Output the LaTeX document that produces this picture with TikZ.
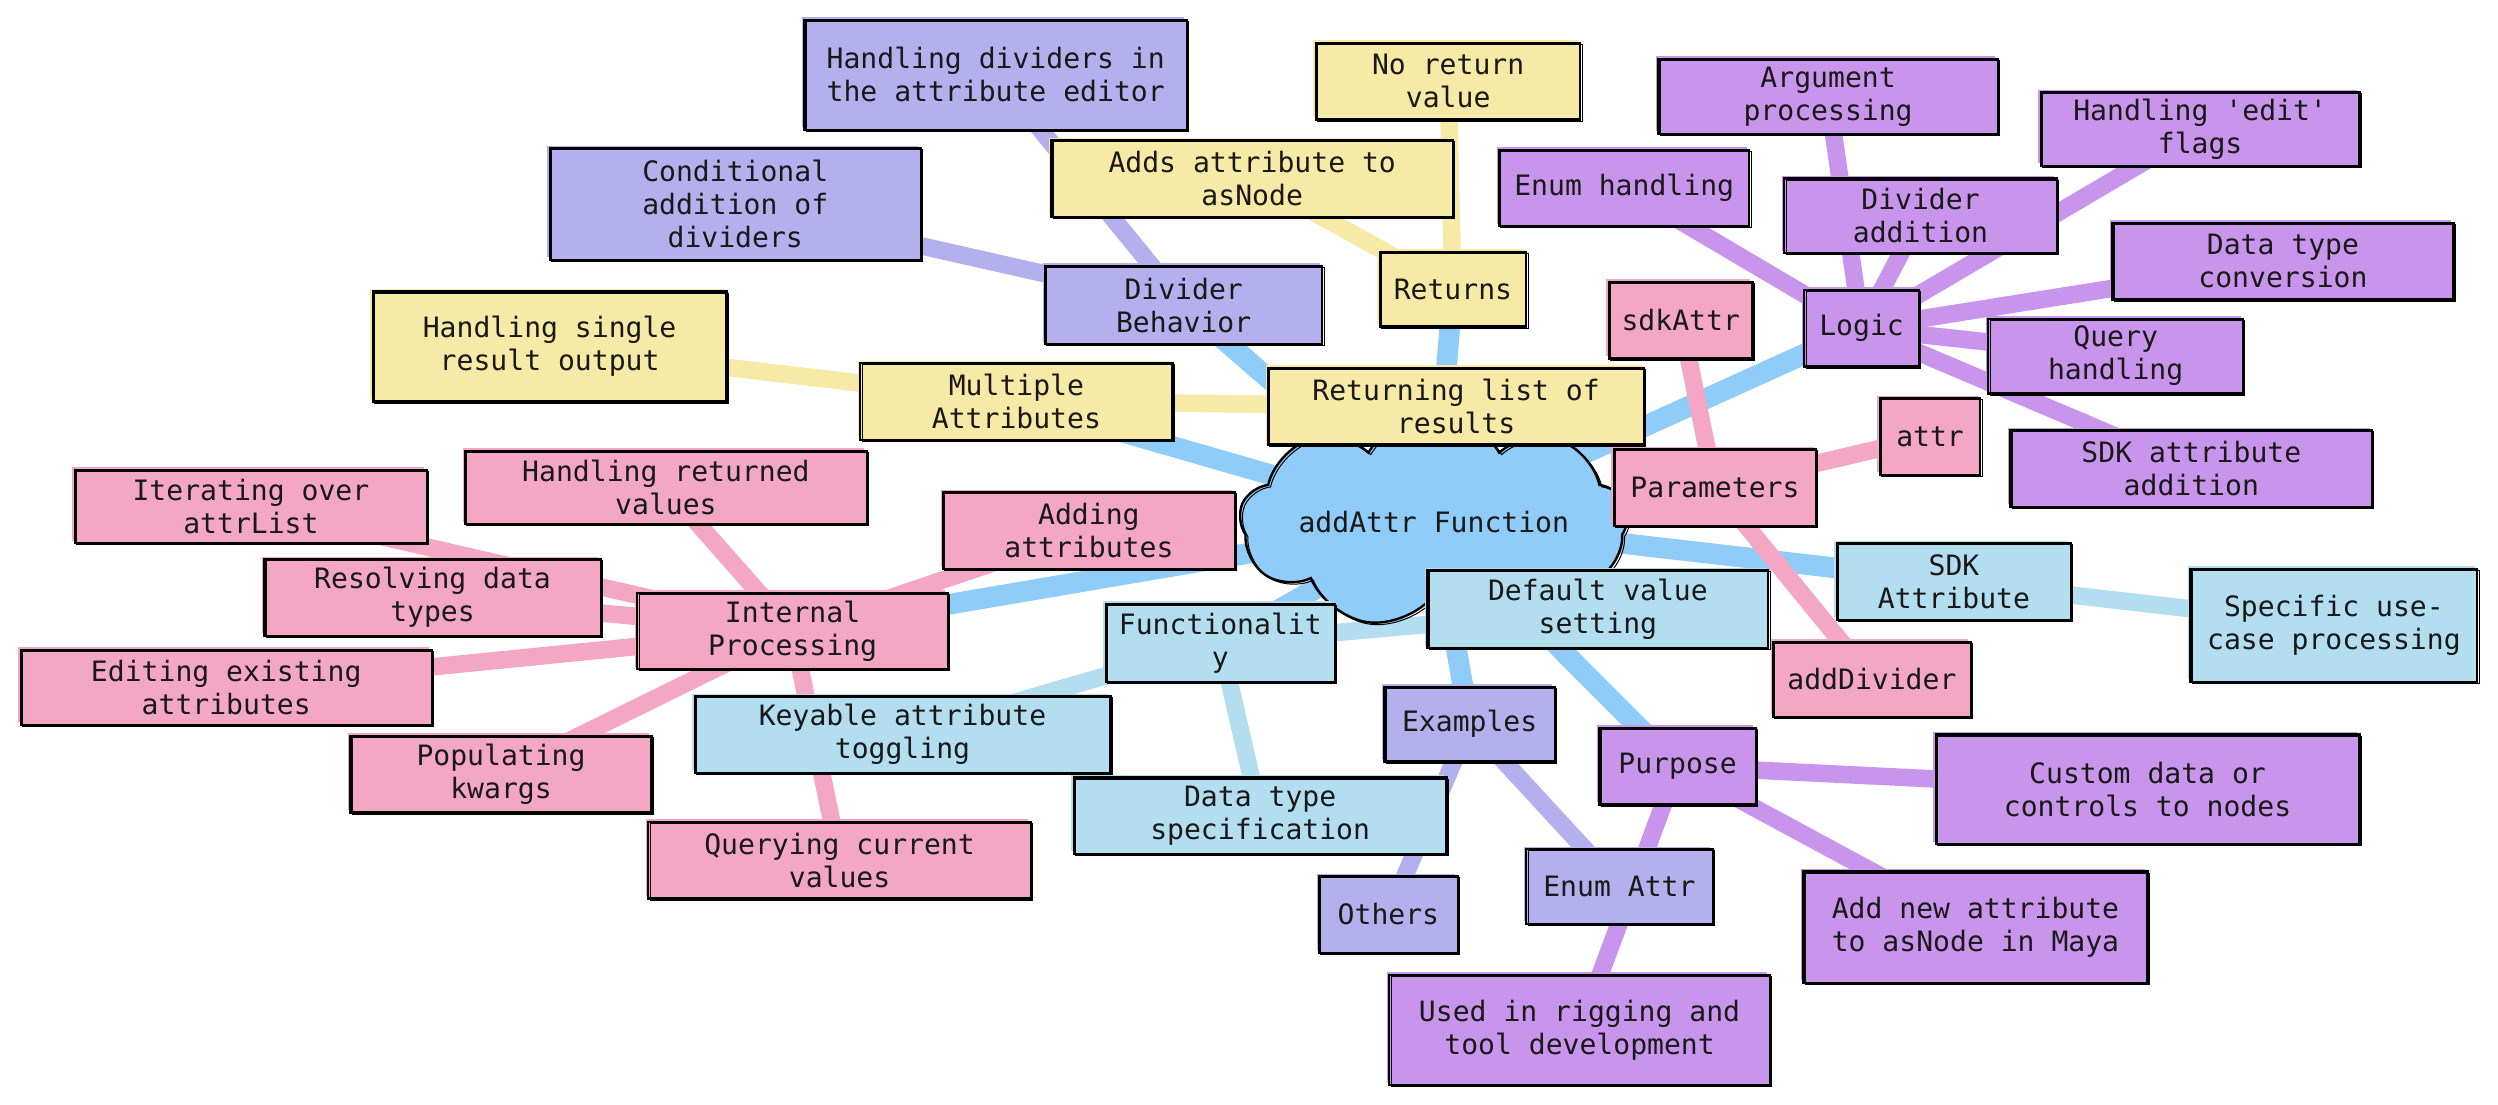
\documentclass[tikz,border=0pt]{standalone}
\usepackage{fontspec}
\newfontfamily\mmfont[Ligatures=TeXOff]{DejaVu Sans Mono}
\usetikzlibrary{shapes.symbols}
\pgfdeclarelayer{back}
\pgfdeclarelayer{edges}
\pgfsetlayers{back,edges,main}
\definecolor{rootblue}{HTML}{90CCF8}
\definecolor{peri}{HTML}{B4B0EE}
\definecolor{yel}{HTML}{F6EAA6}
\definecolor{pur}{HTML}{C995EC}
\definecolor{pinkc}{HTML}{F4A6C5}
\definecolor{lb}{HTML}{B3DEF0}
\tikzset{
  mm/.style={draw=black, line width=1.1pt, fill=#1, font=\mmfont\fontsize{14.1}{16.6}\selectfont,
    align=center, inner sep=0pt, text=black!90,
    preaction={fill=#1, transform canvas={shift={(-1.3pt,1.3pt)}}},
    postaction={draw=black, line width=0.5pt, transform canvas={shift={(0.9pt,-0.8pt)}}}},
  sz/.style 2 args={minimum width=#1*0.8pt, minimum height=#2*0.8pt},
  cloudnode/.style={cloud, cloud puffs=9, cloud puff arc=120, aspect=2.6, draw=black, line width=1.2pt,
    fill=rootblue, inner sep=0pt, minimum width=166pt, minimum height=64pt,
    font=\mmfont\fontsize{14.1}{16.6}\selectfont, text=black!90,
    postaction={draw=black, line width=0.5pt, transform canvas={shift={(1.2pt,-1pt)}}}},
  re/.style={draw=rootblue, line width=10.4pt},
  ce/.style={draw=#1, line width=8.8pt}
}
\begin{document}
\begin{tikzpicture}[x=0.8pt,y=-0.8pt]
\begin{pgfonlayer}{back}
\fill[white] (0,0) rectangle (1568,693);
\end{pgfonlayer}
\useasboundingbox (0,0) rectangle (1568,693);

\node[cloudnode] (root) at (900,327.5) {addAttr Function};

\node[mm=peri, sz={240}{69}] (hdiv) at (625,47) {Handling dividers in\\the attribute editor};
\node[mm=peri, sz={233}{70}] (cond) at (461.5,128) {Conditional\\addition of\\dividers};
\node[mm=peri, sz={174}{49}] (divb) at (743,191.5) {Divider\\Behavior};
\node[mm=yel, sz={166}{48}] (noret) at (909,51) {No return\\value};
\node[mm=yel, sz={252}{48}] (adds) at (786,112) {Adds attribute to\\asNode};
\node[mm=yel, sz={92}{47}] (returns) at (912,181.5) {Returns};
\node[mm=yel, sz={222}{69}] (hsingle) at (345,217.5) {Handling single\\result output};
\node[mm=yel, sz={196}{48}] (multi) at (638,252) {Multiple\\Attributes};
\node[mm=yel, sz={236}{48}] (rlist) at (914,255) {Returning list of\\results};
\node[mm=pur, sz={213}{47}] (argp) at (1147.5,60.5) {Argument\\processing};
\node[mm=pur, sz={200}{46}] (edit) at (1381,81) {Handling 'edit'\\flags};
\node[mm=pur, sz={157}{48}] (enumh) at (1019.5,118) {Enum handling};
\node[mm=pur, sz={171}{47}] (diva) at (1205.5,135.5) {Divider\\addition};
\node[mm=pur, sz={214}{48}] (dtconv) at (1433,164) {Data type\\conversion};
\node[mm=pur, sz={72}{48}] (logic) at (1168.5,206) {Logic};
\node[mm=pur, sz={160}{47}] (query) at (1328,223.5) {Query\\handling};
\node[mm=pur, sz={227}{48}] (sdkadd) at (1375.5,294) {SDK attribute\\addition};
\node[mm=pinkc, sz={90}{48}] (sdkattr) at (1055,201) {sdkAttr};
\node[mm=pinkc, sz={63}{48}] (attr) at (1211.5,274) {attr};
\node[mm=pinkc, sz={127}{48}] (params) at (1076.5,306) {Parameters};
\node[mm=pinkc, sz={124}{47}] (adddiv) at (1175,426.5) {addDivider};
\node[mm=lb, sz={147}{48}] (sdka) at (1226.5,365) {SDK\\Attribute};
\node[mm=lb, sz={180}{71}] (specific) at (1465,392.5) {Specific use-\\case processing};
\node[mm=lb, sz={214}{49}] (defv) at (1003,382.5) {Default value\\setting};
\node[mm=lb, sz={144}{49}] (func) at (766,403.5) {Functionalit\\y};
\node[mm=lb, sz={261}{48}] (keyable) at (566.5,461) {Keyable attribute\\toggling};
\node[mm=lb, sz={234}{48}] (dtspec) at (791,512) {Data type\\specification};
\node[mm=peri, sz={107}{47}] (examples) at (922.5,454.5) {Examples};
\node[mm=peri, sz={87}{48}] (others) at (871.5,574) {Others};
\node[mm=peri, sz={117}{47}] (enuma) at (1016.5,556.5) {Enum Attr};
\node[mm=pur, sz={98}{48}] (purpose) at (1053,481) {Purpose};
\node[mm=pur, sz={266}{69}] (custom) at (1348,495.5) {Custom data or\\controls to nodes};
\node[mm=pur, sz={216}{70}] (addnew) at (1240,582) {Add new attribute\\to asNode in Maya};
\node[mm=pur, sz={239}{69}] (rigging) at (991.5,646.5) {Used in rigging and\\tool development};
\node[mm=pinkc, sz={221}{46}] (iter) at (157.5,318) {Iterating over\\attrList};
\node[mm=pinkc, sz={252}{46}] (hret) at (418,306) {Handling returned\\values};
\node[mm=pinkc, sz={183}{48}] (adding) at (683.5,333) {Adding\\attributes};
\node[mm=pinkc, sz={211}{48}] (resolv) at (271.5,375) {Resolving data\\types};
\node[mm=pinkc, sz={195}{48}] (intp) at (497.5,396) {Internal\\Processing};
\node[mm=pinkc, sz={258}{47}] (editing) at (142,431.5) {Editing existing\\attributes};
\node[mm=pinkc, sz={189}{48}] (populating) at (314.5,486) {Populating\\kwargs};
\node[mm=pinkc, sz={240}{48}] (querying) at (527,540) {Querying current\\values};

\begin{pgfonlayer}{edges}
\foreach \t in {divb,returns,multi,logic,params,sdka,func,intp,examples,purpose}
  \draw[re] (root.center) -- (\t.center);
\foreach \t in {hdiv,cond} \draw[ce=peri] (divb.center) -- (\t.center);
\foreach \t in {others,enuma} \draw[ce=peri] (examples.center) -- (\t.center);
\foreach \t in {noret,adds} \draw[ce=yel] (returns.center) -- (\t.center);
\foreach \t in {hsingle,rlist} \draw[ce=yel] (multi.center) -- (\t.center);
\foreach \t in {argp,edit,enumh,diva,dtconv,query,sdkadd} \draw[ce=pur] (logic.center) -- (\t.center);
\foreach \t in {custom,addnew,rigging} \draw[ce=pur] (purpose.center) -- (\t.center);
\foreach \t in {sdkattr,attr,adddiv} \draw[ce=pinkc] (params.center) -- (\t.center);
\foreach \t in {iter,hret,adding,resolv,editing,populating,querying} \draw[ce=pinkc] (intp.center) -- (\t.center);
\draw[ce=lb] (sdka.center) -- (specific.center);
\foreach \t in {defv,keyable,dtspec} \draw[ce=lb] (func.center) -- (\t.center);
\end{pgfonlayer}
\end{tikzpicture}
\end{document}
